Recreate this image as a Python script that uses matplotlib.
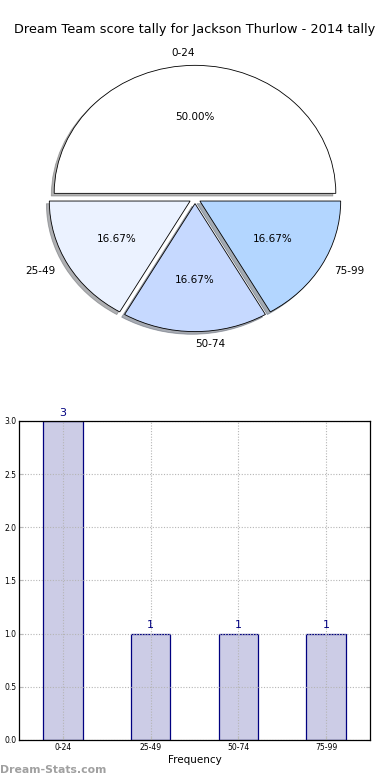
import matplotlib
matplotlib.use("Agg")
import matplotlib.pyplot as plt
import numpy as np

# ============================== Data

TITLE = "Dream Team score tally for Jackson Thurlow - 2014 tally"
CATEGORIES = ["0-24", "25-49", "50-74", "75-99"]
COUNTS = [3, 1, 1, 1]
PIE_COLORS = ["#ffffff", "#ebf2ff", "#c6d9ff", "#b3d6ff"]
EXPLODE = [0.04, 0.04, 0.04, 0.04]
Y_TICKS = [0.0, 0.5, 1.0, 1.5, 2.0, 2.5, 3.0]


# ============================== Figure

fig = plt.figure(figsize=(3.9, 7.8), dpi=100)

# ------------------------- Pie
ax_pie = fig.add_axes([0.0487, 0.5404, 0.9026, 0.4103])
wedges, texts, autotexts = ax_pie.pie(
    COUNTS, labels=CATEGORIES, colors=PIE_COLORS, explode=EXPLODE,
    autopct="%1.2f%%", shadow={"ox": -0.015, "oy": -0.015, "shade": 0.6},
    startangle=0, labeldistance=1.1,
    pctdistance=0.6, wedgeprops={"edgecolor": "black", "linewidth": 0.6},
    textprops={"fontsize": 7.5},
)
ax_pie.set_aspect("auto")
ax_pie.set_xlim(-1.25, 1.25)
ax_pie.set_ylim(-1.25, 1.25)

fig.text(0.5, 1 - 30 / 780, TITLE, ha="center", va="center", fontsize=9.3)

# ------------------------- Bars
ax_bar = fig.add_axes([0.0487, 0.0513, 0.9, 0.409])
x = np.arange(len(CATEGORIES))
ax_bar.bar(x, COUNTS, width=0.45, color="#ccccE6", edgecolor="#000080",
           linewidth=0.9, zorder=1)
for xi, c in zip(x, COUNTS):
    ax_bar.text(xi, c + 0.03, str(c), ha="center", va="bottom",
                fontsize=8, color="#000080")
ax_bar.set_xlim(-0.5, 3.5)
ax_bar.set_ylim(0, 3)
ax_bar.set_xticks(x)
ax_bar.set_xticklabels(CATEGORIES)
ax_bar.set_yticks(Y_TICKS)
ax_bar.set_yticklabels([f"{v:.1f}" for v in Y_TICKS])
ax_bar.tick_params(labelsize=5.5, direction="in", length=3, color="#bbbbbb",
                   right=True, top=False, pad=2)
ax_bar.grid(True, linestyle=(0, (1, 1.5)), color="#b5b5b5", linewidth=0.8, zorder=2)
ax_bar.set_axisbelow(False)
ax_bar.set_xlabel("Frequency", fontsize=7.5, labelpad=2)
for sp in ax_bar.spines.values():
    sp.set_linewidth(0.9)
    sp.set_zorder(3)

fig.text(0.0, 1 - 770 / 780, "Dream-Stats.com", ha="left", va="center",
         fontsize=7.8, color="#a0a0a0", fontweight="bold")

fig.savefig("out.png", dpi=100)
